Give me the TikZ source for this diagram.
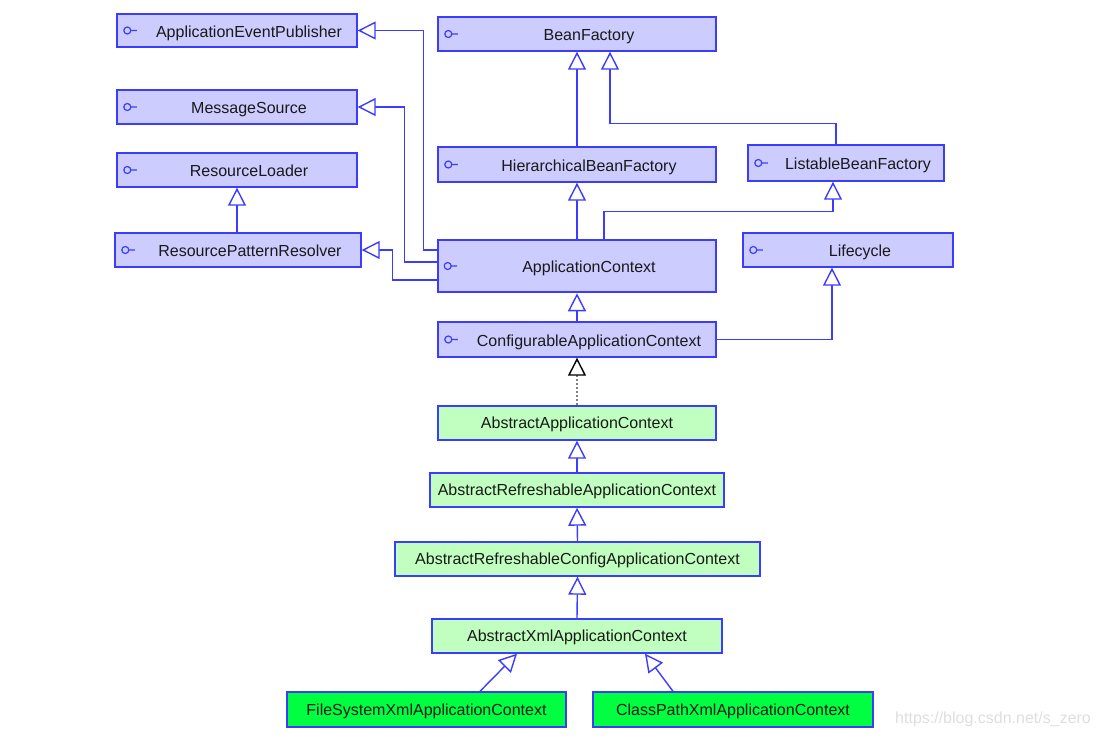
\documentclass[tikz,border=0pt]{standalone}
\usepackage{fontspec}
\setmainfont{Liberation Sans}
\usetikzlibrary{arrows.meta,calc}
\definecolor{lineblue}{RGB}{60,60,255}
\definecolor{ifill}{RGB}{204,204,255}
\definecolor{cfill}{RGB}{192,255,192}
\definecolor{gfill}{RGB}{0,255,64}
\definecolor{txt}{RGB}{25,25,25}
\definecolor{wm}{RGB}{222,222,222}
\tikzset{
  box/.style={draw=lineblue, line width=1.4pt, inner sep=0pt, text=txt},
  ibox/.style={box, fill=ifill},
  cbox/.style={box, fill=cfill},
  gbox/.style={box, fill=gfill},
  lbl/.style={text=txt, inner sep=0pt, font=\fontsize{16}{19}\selectfont, text height=11.5pt, text depth=0pt},
  inh/.style={draw=lineblue, line width=1.4pt, -{Triangle[length=18pt,width=18pt,fill=white,line width=1.4pt]}},
  real/.style={draw=gray, line width=1.6pt, dash pattern=on 2pt off 2pt, -{Triangle[length=18pt,width=18pt,fill=white,line width=1.4pt,color=black]}},
}
\newcommand\ifcbox[6]{%
  \node[ibox, minimum width=#4pt, minimum height=#5pt] (#1) at (#2,#3) {};
  \node[lbl] (#1-t) at ($(#1.center)+(12,1)$) {#6};
  \draw[lineblue, line width=1.2pt] ($(#1.west)+(11,0)$) circle (3.5) ($(#1.west)+(14.5,0)$) -- ++(6,0);
}
\begin{document}
\begin{tikzpicture}[x=1pt,y=-1pt]
\useasboundingbox (0,0) rectangle (1097,736);
\ifcbox{aep}{237}{30.5}{240}{33}{ApplicationEventPublisher}
\ifcbox{ms}{237}{107}{240}{34}{MessageSource}
\ifcbox{rl}{237}{170}{240}{34}{ResourceLoader}
\ifcbox{rpr}{238}{250}{246}{34}{ResourcePatternResolver}
\ifcbox{bf}{577}{34}{278}{34}{BeanFactory}
\ifcbox{hbf}{577}{164.5}{278}{35}{HierarchicalBeanFactory}
\ifcbox{lbf}{846}{163}{196}{36}{ListableBeanFactory}
\ifcbox{lc}{848}{250}{210}{34}{Lifecycle}
\ifcbox{cac}{577}{339.5}{278}{35}{ConfigurableApplicationContext}
\node[ibox, line width=2.6pt, minimum width=278pt, minimum height=52pt] (ac) at (577,266) {};
\node[lbl] (ac-t) at ($(ac.center)+(12,1)$) {ApplicationContext};
\draw[lineblue, line width=1.2pt] ($(ac.west)+(11,0)$) circle (3.5) ($(ac.west)+(14.5,0)$) -- ++(6,0);

\node[cbox, lbl, minimum width=278pt, minimum height=34pt] (aac) at (577,423) {AbstractApplicationContext};
\node[cbox, lbl, minimum width=294pt, minimum height=34pt] (arac) at (577,490) {AbstractRefreshableApplicationContext};
\node[cbox, lbl, minimum width=365pt, minimum height=34pt] (arcac) at (577.5,559) {AbstractRefreshableConfigApplicationContext};
\node[cbox, lbl, minimum width=290pt, minimum height=34pt] (axac) at (577,636) {AbstractXmlApplicationContext};
\node[gbox, lbl, minimum width=279pt, minimum height=35pt] (fs) at (426.5,709.5) {FileSystemXmlApplicationContext};
\node[gbox, lbl, minimum width=280pt, minimum height=35pt] (cp) at (733,709.5) {ClassPathXmlApplicationContext};

\node[lbl, text=wm, anchor=west] (wmk) at (895,718) {https://blog.csdn.net/s\_zero};

% connectors
\draw[inh] (hbf.north) -- (bf.south);
\draw[inh] ($(lbf.north)+(-10,0)$) -- ++(0,-21) -| ($(bf.south)+(33,0)$);
\draw[inh] (ac.north) -- (hbf.south);
\draw[inh] ($(ac.north)+(27,0)$) -- ++(0,-27) -| ($(lbf.south)+(-13,0)$);
\draw[inh] ($(ac.west)+(0,-16)$) -- ++(-13,0) |- (aep.east);
\draw[inh] ($(ac.west)+(0,-4)$) -- ++(-32,0) |- (ms.east);
\draw[inh] ($(ac.west)+(0,14)$) -- ++(-44,0) |- (rpr.east);
\draw[inh] (rl.south |- rpr.north) -- (rl.south);
\draw[inh] (cac.north) -- (ac.south);
\draw[inh] (cac.east) -| ($(lc.south)+(-16,0)$);
\draw[real] (aac.north) -- (cac.south);
\draw[inh] (arac.north) -- (aac.south);
\draw[inh] (arcac.north) -- (arac.south);
\draw[inh] (axac.north) -- (arcac.south);
\draw[inh] ($(fs.north)+(53.5,0)$) -- ($(axac.south)+(-60,0)$);
\draw[inh] ($(cp.north)+(-60,0)$) -- ($(axac.south)+(68,0)$);
\end{tikzpicture}
\end{document}
